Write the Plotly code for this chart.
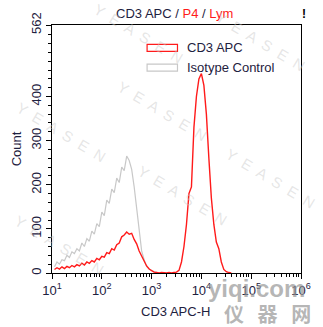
import plotly.graph_objects as go

# ---- data (log10 of CD3 APC-H intensity, counts) ----
log_low = [1.05,1.10,1.15,1.20,1.25,1.30,1.35,1.40,1.45,1.50,1.55,1.60,1.65,1.70,1.75,1.80,1.85,1.90,1.95,2.00,
           2.05,2.10,2.15,2.20,2.25,2.30,2.35,2.40,2.45,2.50,2.55,2.60,2.65,2.70,2.75,2.80,2.85,2.90,2.95,3.00,
           3.05,3.10,3.15,3.20,3.25,3.30,3.35,3.40,3.45]
cd3_low = [8,12,9,14,10,15,12,17,14,19,16,22,18,25,22,28,25,33,30,38,
           36,46,44,55,52,64,68,82,86,93,88,90,76,66,50,38,26,16,9,5,
           2,1,0,1,0,0,1,0,1]
log_peak = [3.50,3.55,3.60,3.65,3.70,3.75,3.80,3.85,3.90,3.95,4.00,4.05,4.10,4.15,4.20,4.25,4.30,4.35,4.40,4.45,4.50,4.55,4.60]
cd3_peak = [2,6,25,60,110,180,195,330,400,440,452,425,360,260,170,110,70,55,25,8,3,1,0]

log_iso = [1.05,1.10,1.15,1.20,1.25,1.30,1.35,1.40,1.45,1.50,1.55,1.60,1.65,1.70,1.75,1.80,1.85,1.90,1.95,2.00,
           2.05,2.10,2.15,2.20,2.25,2.30,2.35,2.40,2.45,2.50,2.55,2.60,2.65,2.70,2.75,2.80,2.85,2.90,2.95,3.00,
           3.05,3.10,3.15]
iso = [14,25,20,30,28,40,35,48,44,55,50,68,60,78,72,95,88,112,105,138,
       130,165,158,190,182,215,205,240,232,265,255,235,195,145,92,50,30,15,10,5,
       3,1,0]

series_names = ["CD3 APC", "Isotype Control"]
y_ticks = [0, 100, 200, 300, 400, 562]
x_tick_exp = [1, 2, 3, 4, 5, 6]

cd3_x = [10 ** v for v in log_low + log_peak]
cd3_y = cd3_low + cd3_peak
iso_x = [10 ** v for v in log_iso]

FONT = "Arial, Liberation Sans, sans-serif"
TXT = "#1e2140"
RED = "#ff1a1a"
GRAY = "#c8c8c8"

# plot area in pixels
L, R, T, B = 52, 306, 23, 273
def px(x):
    return (x - L) / (R - L)
def py(y):
    return (B - y) / (B - T)

fig = go.Figure()
fig.add_trace(go.Scatter(x=iso_x, y=iso, mode="lines", name=series_names[1],
                         line=dict(color=GRAY, width=1.2), showlegend=False))
fig.add_trace(go.Scatter(x=cd3_x, y=cd3_y, mode="lines", name=series_names[0],
                         line=dict(color=RED, width=1.4), showlegend=False))

minor_x = [m * 10 ** e for e in range(1, 6) for m in range(2, 10)]

fig.update_layout(
    width=323, height=327,
    margin=dict(l=L, r=323 - R, t=T, b=327 - B),
    paper_bgcolor="white", plot_bgcolor="white",
    font=dict(family=FONT, size=13, color=TXT),
    showlegend=False,
    xaxis=dict(type="log", range=[1, 6], showgrid=False, zeroline=False,
               showline=True, linecolor="black", linewidth=1, mirror=True,
               ticks="outside", ticklen=5, tickcolor="black",
               tickvals=[10 ** e for e in x_tick_exp],
               ticktext=[f"10<sup>{e}</sup>" for e in x_tick_exp],
               tickfont=dict(size=13, color=TXT),
               minor=dict(tickvals=minor_x, ticks="outside", ticklen=3, tickcolor="black")),
    yaxis=dict(range=[0, 562], showgrid=False, zeroline=False,
               showline=True, linecolor="black", linewidth=1, mirror=True,
               ticks="outside", ticklen=5, tickcolor="black",
               tickvals=y_ticks, ticktext=[str(v) for v in y_ticks], tickangle=-90,
               tickfont=dict(size=13, color=TXT),
               minor=dict(dtick=20, ticks="outside", ticklen=3, tickcolor="black"),
               title=dict(text="Count", font=dict(size=13, color=TXT), standoff=4)),
)

# manual legend (outlined boxes)
shapes = []
annots = []
for i, (name, col) in enumerate(zip(series_names, [RED, GRAY])):
    yc = 46 + 20 * i
    shapes.append(dict(type="rect", xref="paper", yref="paper",
                       x0=px(149), x1=px(180), y0=py(yc - 3.5), y1=py(yc + 3.5),
                       line=dict(color=col, width=1.2), fillcolor="rgba(0,0,0,0)"))
    annots.append(dict(x=px(188), y=py(yc), xanchor="left", yanchor="middle", text=name,
                       font=dict(size=13, color=TXT)))

annots.append(dict(x=px(177), y=py(11), xanchor="center", yanchor="middle",
                   text=f"CD3 APC / <span style='color:{RED}'>P4</span> / <span style='color:{RED}'>Lym</span>",
                   font=dict(size=13, color=TXT)))
annots.append(dict(x=px(309), y=py(12), xanchor="center", yanchor="middle",
                   text="<b>!</b>", font=dict(size=12, color="black")))
# x-axis title
annots.append(dict(x=px(178), y=py(312), xanchor="center", yanchor="middle",
                   text="CD3 APC-H", font=dict(size=13, color=TXT)))

# watermarks
for (wx, wy) in [(62, 131), (165, 110), (275, 178), (185, 195), (60, 245), (265, 40), (140, 32)]:
    annots.append(dict(x=px(wx), y=py(wy), xanchor="center", yanchor="middle",
                       text="Y  E  A  S  E  N", textangle=31,
                       font=dict(size=15, color="rgba(200,200,200,0.45)")))
annots.append(dict(x=px(261), y=py(289), xanchor="center", yanchor="middle", text="<b>yiqi.com</b>",
                   font=dict(size=24, color="rgba(150,150,150,0.7)")))
annots.append(dict(x=px(272), y=py(314), xanchor="center", yanchor="middle", text="<b>仪   器   网</b>",
                   font=dict(size=20, color="rgba(150,150,150,0.7)", family="Noto Sans CJK SC")))
for a in annots:
    a.update(xref="paper", yref="paper", showarrow=False)

fig.update_layout(annotations=annots, shapes=shapes)
fig.write_html("out.html")
